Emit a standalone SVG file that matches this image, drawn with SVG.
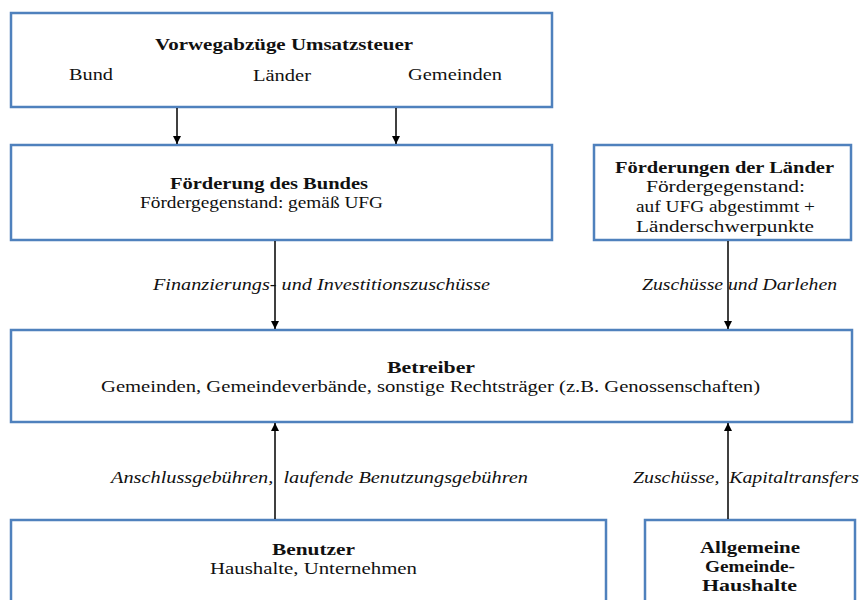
<svg xmlns="http://www.w3.org/2000/svg" width="859" height="600" viewBox="0 0 859 600">
<defs>
<marker id="ah" viewBox="0 0 8 8" refX="8" refY="4" markerWidth="8" markerHeight="8" markerUnits="userSpaceOnUse" orient="auto">
<path d="M0,0 L8,4 L0,8 Z" fill="#000"/>
</marker>
<style>
.box{fill:#fff;stroke:#4F81BD;stroke-width:2.5}
text{font-family:"Liberation Serif","DejaVu Serif",serif;font-size:16px;fill:#111;text-anchor:middle}
.b{font-weight:bold}
.i{font-style:italic}
.c{stroke:#000;stroke-width:1.5;fill:none;marker-end:url(#ah)}
</style>
</defs>
<rect width="859" height="600" fill="#fff"/>
<g id="vorweg">
<rect class="box" x="11" y="13" width="541" height="94"/>
<text class="b" x="284" y="50" textLength="258" lengthAdjust="spacingAndGlyphs">Vorwegabzüge Umsatzsteuer</text>
<text x="91" y="80" textLength="44" lengthAdjust="spacingAndGlyphs">Bund</text>
<text x="282" y="81" textLength="58" lengthAdjust="spacingAndGlyphs">Länder</text>
<text x="455" y="80" textLength="94" lengthAdjust="spacingAndGlyphs">Gemeinden</text>
</g>
<g id="bund">
<rect class="box" x="11" y="145" width="541" height="95"/>
<text class="b" x="269" y="189" textLength="198" lengthAdjust="spacingAndGlyphs">Förderung des Bundes</text>
<text x="261.5" y="208" textLength="243" lengthAdjust="spacingAndGlyphs">Fördergegenstand: gemäß UFG</text>
</g>
<g id="laender">
<rect class="box" x="594" y="145" width="257" height="95"/>
<text class="b" x="724.5" y="173" textLength="219" lengthAdjust="spacingAndGlyphs">Förderungen der Länder</text>
<text x="725.5" y="192" textLength="159" lengthAdjust="spacingAndGlyphs">Fördergegenstand:</text>
<text x="725.5" y="212" textLength="179" lengthAdjust="spacingAndGlyphs">auf UFG abgestimmt +</text>
<text x="725" y="232" textLength="178" lengthAdjust="spacingAndGlyphs">Länderschwerpunkte</text>
</g>
<g id="betreiber">
<rect class="box" x="11" y="330" width="841" height="92"/>
<text class="b" x="431" y="373" textLength="88" lengthAdjust="spacingAndGlyphs">Betreiber</text>
<text x="430.5" y="392" textLength="659" lengthAdjust="spacingAndGlyphs">Gemeinden, Gemeindeverbände, sonstige Rechtsträger (z.B. Genossenschaften)</text>
</g>
<g id="benutzer">
<rect class="box" x="11" y="520" width="595" height="90"/>
<text class="b" x="313.5" y="555" textLength="83" lengthAdjust="spacingAndGlyphs">Benutzer</text>
<text x="313.5" y="574" textLength="207" lengthAdjust="spacingAndGlyphs">Haushalte, Unternehmen</text>
</g>
<g id="haushalte">
<rect class="box" x="645" y="520" width="210" height="90"/>
<text class="b" x="750" y="553" textLength="100" lengthAdjust="spacingAndGlyphs">Allgemeine</text>
<text class="b" x="750" y="572" textLength="90" lengthAdjust="spacingAndGlyphs">Gemeinde-</text>
<text class="b" x="749.5" y="591" textLength="95" lengthAdjust="spacingAndGlyphs">Haushalte</text>
</g>
<g id="connectors">
<line class="c" x1="177" y1="108" x2="177" y2="144"/>
<line class="c" x1="396" y1="108" x2="396" y2="144"/>
<line class="c" x1="275" y1="241" x2="275" y2="329"/>
<line class="c" x1="728" y1="241" x2="728" y2="329"/>
<line class="c" x1="275" y1="519" x2="275" y2="423"/>
<line class="c" x1="728" y1="519" x2="728" y2="423"/>
<text class="i" x="321.5" y="290" textLength="337" lengthAdjust="spacingAndGlyphs">Finanzierungs- und Investitionszuschüsse</text>
<text class="i" x="739.5" y="290" textLength="195" lengthAdjust="spacingAndGlyphs">Zuschüsse und Darlehen</text>
<text class="i" x="319.5" y="483" textLength="417" lengthAdjust="spacingAndGlyphs" xml:space="preserve">Anschlussgebühren,  laufende Benutzungsgebühren</text>
<text class="i" x="746" y="483" textLength="226" lengthAdjust="spacingAndGlyphs" xml:space="preserve">Zuschüsse,  Kapitaltransfers</text>
</g>
</svg>
